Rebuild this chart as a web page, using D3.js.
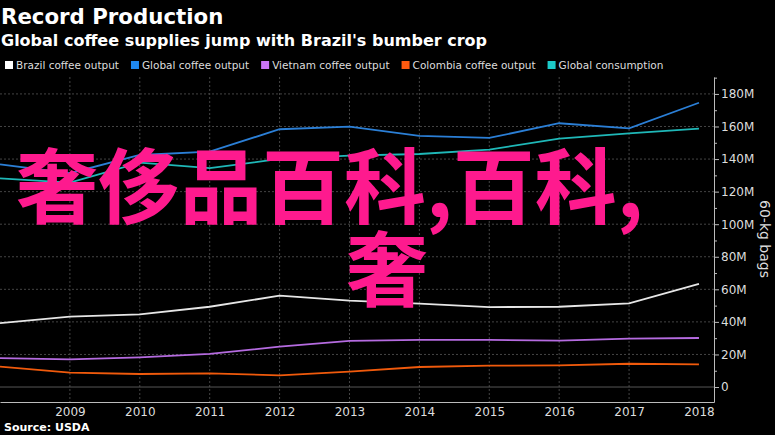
<!DOCTYPE html>
<html>
<head>
<meta charset="utf-8">
<script src="https://cdn.jsdelivr.net/npm/d3@7"></script>
<style>
  html, body { margin: 0; padding: 0; background: #000; }
  svg { display: block; }
</style>
</head>
<body>
<div id="chart"></div>
<script>
// Record Production - coffee supply line chart
const years = [2008, 2009, 2010, 2011, 2012, 2013, 2014, 2015, 2016, 2017, 2018];
const brazilOutput = [39.3, 43.2, 44.6, 49.3, 56.1, 53.0, 51.2, 49.1, 49.3, 51.4, 63.3];
const globalOutput = [136.8, 131.3, 142.5, 144.6, 158.3, 159.9, 154.2, 153.0, 162.0, 158.9, 174.6];
const vietnamOutput = [17.8, 17.0, 18.2, 20.3, 24.8, 28.3, 28.9, 28.9, 28.5, 29.7, 30.1];
const colombiaOutput = [12.5, 8.8, 8.0, 8.4, 7.2, 9.4, 12.3, 13.1, 13.3, 14.3, 13.9];
const globalConsumption = [128.2, 125.5, 137.8, 134.4, 140.1, 142.1, 143.1, 145.8, 152.6, 155.8, 158.7];

const seriesNames = ["Brazil coffee output", "Global coffee output", "Vietnam coffee output", "Colombia coffee output", "Global consumption"];
const seriesValues = [brazilOutput, globalOutput, vietnamOutput, colombiaOutput, globalConsumption];
const lineColors = ["#e6e6e6", "#2b7fd6", "#b56be0", "#f05a0c", "#1fb8b8"];
const swatchColors = ["#ffffff", "#1e88f0", "#c874f5", "#ff5a10", "#1ccaca"];

const yTicks = [0, 20, 40, 60, 80, 100, 120, 140, 160, 180];
const yMinorTicks = [10, 30, 50, 70, 90, 110, 130, 150, 170, 190];
const xTicks = [2009, 2010, 2011, 2012, 2013, 2014, 2015, 2016, 2017, 2018];

const width = 775, height = 435;

const svg = d3.select("#chart").append("svg")
  .attr("width", width)
  .attr("height", height)
  .style("background", "#000");

// scales (axis frame runs a bit past the data on both ends)
const x = d3.scaleLinear().domain([2008, 2018.215]).range([0, 714]);
const y = d3.scaleLinear().domain([-9.2, 190.4]).range([402, 77]);

// Title block
svg.append("text")
  .attr("x", 1).attr("y", 24)
  .attr("font-family", "DejaVu Sans").attr("font-weight", "bold")
  .attr("font-size", 21.3).attr("fill", "#fff")
  .text("Record Production");

svg.append("text")
  .attr("x", 1).attr("y", 46)
  .attr("font-family", "DejaVu Sans").attr("font-weight", "bold")
  .attr("font-size", 16).attr("fill", "#fff")
  .text("Global coffee supplies jump with Brazil's bumber crop");

// Legend
const legend = svg.append("g");
let lx = 5;
seriesNames.forEach((name, i) => {
  legend.append("rect")
    .attr("x", lx).attr("y", 61)
    .attr("width", 8).attr("height", 8)
    .attr("fill", swatchColors[i]);
  const t = legend.append("text")
    .attr("x", lx + 11).attr("y", 69)
    .attr("font-family", "DejaVu Sans").attr("font-size", 10.5)
    .attr("fill", "#ddd")
    .text(name);
  lx += 11 + t.node().getComputedTextLength() + 12;
});

// Grid
const grid = svg.append("g");
grid.selectAll("line.h")
  .data(yTicks.filter(d => d > 0))
  .join("line")
  .attr("x1", 0).attr("x2", x.range()[1])
  .attr("y1", d => y(d)).attr("y2", d => y(d))
  .attr("stroke", "#444").attr("stroke-dasharray", "2,2");

grid.selectAll("line.v")
  .data(xTicks.filter(d => d < 2018))
  .join("line")
  .attr("x1", d => x(d)).attr("x2", d => x(d))
  .attr("y1", y.range()[1]).attr("y2", y.range()[0])
  .attr("stroke", "#444").attr("stroke-dasharray", "2,2");

// zero line
grid.append("line")
  .attr("x1", 0).attr("x2", x.range()[1])
  .attr("y1", y(0)).attr("y2", y(0))
  .attr("stroke", "#555");

// Lines
const line = d3.line()
  .x((d, i) => x(years[i]))
  .y(d => y(d));

svg.append("g")
  .selectAll("path")
  .data(seriesValues)
  .join("path")
  .attr("d", d => line(d))
  .attr("fill", "none")
  .attr("stroke", (d, i) => lineColors[i])
  .attr("stroke-width", 1.8);

// Y axis (right)
const yAxis = svg.append("g")
  .attr("transform", `translate(${x.range()[1]},0)`)
  .call(d3.axisRight(y)
    .tickValues(yTicks)
    .tickSize(5)
    .tickSizeOuter(0)
    .tickFormat(d => d === 0 ? "0" : d + "M"));
yAxis.select(".domain").attr("stroke", "#bbb");
yAxis.selectAll(".tick line").attr("stroke", "#bbb");
yAxis.selectAll(".tick text")
  .attr("x", 7)
  .attr("font-family", "DejaVu Sans").attr("font-size", 12)
  .attr("fill", "#ddd");

const yMinor = svg.append("g")
  .attr("transform", `translate(${x.range()[1]},0)`)
  .call(d3.axisRight(y).tickValues(yMinorTicks).tickSize(3).tickSizeOuter(0).tickFormat(""));
yMinor.select(".domain").remove();
yMinor.selectAll(".tick line").attr("stroke", "#bbb");

svg.append("text")
  .attr("transform", "translate(760,239) rotate(90)")
  .attr("text-anchor", "middle")
  .attr("font-family", "DejaVu Sans").attr("font-size", 14)
  .attr("fill", "#ddd")
  .text("60-kg bags");

// X axis
const xAxis = svg.append("g")
  .attr("transform", `translate(0,${y.range()[0]})`)
  .call(d3.axisBottom(x).tickValues(xTicks).tickFormat(d3.format("d"))
    .tickSize(0).tickPadding(5).tickSizeOuter(0));
xAxis.select(".domain").attr("stroke", "#bbb");
xAxis.selectAll(".tick text")
  .attr("font-family", "DejaVu Sans").attr("font-size", 12)
  .attr("fill", "#ddd");

// Source
svg.append("text")
  .attr("x", 4).attr("y", 431)
  .attr("font-family", "DejaVu Sans").attr("font-weight", "bold")
  .attr("font-size", 11).attr("fill", "#fff")
  .text("Source: USDA");

// Overlay text
const overlay = svg.append("g")
  .attr("font-family", "Noto Sans CJK SC").attr("font-weight", "bold")
  .attr("font-size", 82).attr("fill", "#fe1a8e");
overlay.append("text").attr("x", 16).attr("y", 217).text("奢侈品百科,百科,");
overlay.append("text").attr("x", 346).attr("y", 300).text("奢");
</script>
</body>
</html>
